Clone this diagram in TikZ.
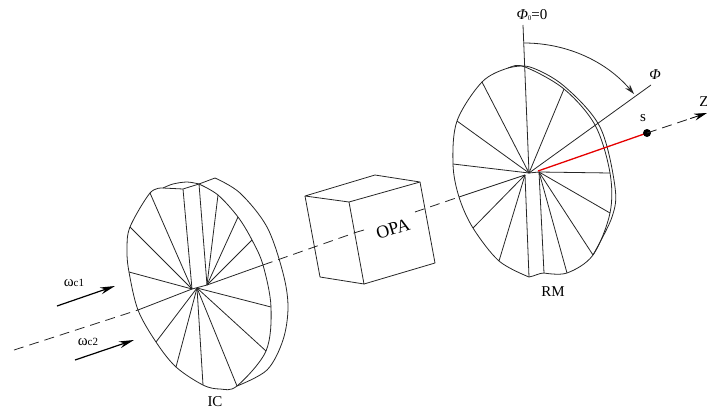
\documentclass[tikz,border=0pt]{standalone}
\usepackage{fontspec}
\setmainfont{Liberation Serif}
\usetikzlibrary{arrows.meta}
\tikzset{
  ln/.style={line width=0.8pt,black!85,line join=round},
  axisdash/.style={line width=0.8pt,black!85,dash pattern=on 10pt off 6pt},
  bigarrow/.style={line width=1.2pt,black,-{Stealth[length=15pt,width=7pt]}},
  lab/.style={font=\fontsize{15}{16}\selectfont,inner sep=0pt},
  rim/.style={ln,smooth,tension=0.55}
}
\begin{document}
\begin{tikzpicture}[x=1pt,y=-1pt]
\useasboundingbox (0,0) rectangle (707,412);
% ---- IC points
\foreach \n/\p in {a/{150,193},b/{163,188},c/{183,189},d/{199,184},e/{218,195},f/{238,217},g/{252,240},h/{263,265},i/{271,307},j/{266,351},k/{237,386},l/{220,389},m/{203,385},n/{176,367},o/{156,342},p/{138,310},q/{129,272},r/{130,227},s/{127,250},
 t/{173,184},u/{187,182},v/{215,178},w/{240,193},x/{267,227},y/{283,273},z/{288,307},A/{283,340},B/{267,370},
 H/{192,289},I/{207,285},J/{197,288}}
  {\coordinate (ic\n) at (\p);}
% IC outline
\draw[rim] plot coordinates {(icd)(ice)(icf)(icg)(ich)(ici)(icj)(ick)(icl)(icm)(icn)(ico)(icp)(icq)(ics)(icr)(ica)(icb)};
\draw[ln] (icb) -- (icc) -- (icd);
\draw[rim] plot coordinates {(icb)(ict)(icu)(icd)};
\draw[ln] (icd) -- (icv);
\draw[rim] plot coordinates {(icv)(icw)(icx)(icy)(icz)(icA)(icB)(ick)};
% IC spokes
\draw[ln] (icH) -- (icI);
\foreach \t in {a,r,q,c} \draw[ln] (icH) -- (ic\t);
\foreach \t in {o,n,m,k,j,i} \draw[ln] (icJ) -- (ic\t);
\foreach \t in {d,e,f,g} \draw[ln] (icI) -- (ic\t);
\draw[ln] (icH) -- (icp);
\draw[ln] (icI) -- (ich);
% ---- axis dashes
\coordinate (zstart) at (14,350);
\coordinate (zend) at (707,113);
\coordinate (cubeL) at (357,232);
\coordinate (cubeR) at (415,212);
\draw[axisdash] (zstart) -- (icp);
\draw[axisdash] (ich) -- (cubeL);
\coordinate (textL) at (364,230);
\draw[ln] (cubeL) -- (textL);
% ---- Cube
\foreach \n/\p in {a/{305,196},b/{375,175},c/{420,182},d/{349,202},e/{320,277},f/{364,284},g/{435,263}}
  {\coordinate (cu\n) at (\p);}
\draw[ln] (cua) -- (cub) -- (cuc) -- (cud) -- cycle;
\draw[ln] (cua) -- (cue) -- (cuf) -- (cud);
\draw[ln] (cuf) -- (cug) -- (cuc);
\node[lab,rotate=17,font=\fontsize{18}{18}\selectfont] (opa) at (393,229) {OPA};
% ---- RM points
\foreach \n/\p in {a/{525,67},b/{508,68},c/{482,82},d/{457,121},e/{453,164},f/{459,197},g/{473,228},h/{499,261},i/{529,277},j/{544,273},k/{567,273},l/{593,255},m/{610,213},n/{610,173},o/{595,125},p/{564,89},
 q/{530,67},r/{564,86},s/{600,127},t/{615,187},u/{612,217},
 H/{529,173},I/{539,172},K/{525,175},L/{523,25},M/{651,85},S/{647,133},N/{524,43},P/{634,94},Q/{578,51},R/{538,171}}
  {\coordinate (rm\n) at (\p);}
\draw[axisdash] (cubeR) -- (rmf);
\draw[rim] plot coordinates {(rmi)(rmh)(rmg)(rmf)(rme)(rmd)(rmc)(rmb)(rma)(rmp)(rmo)(rmn)(rmm)(rml)(rmk)(rmj)};
\draw[ln] (rmj) .. controls (539,273) and (535,276) .. (rmi);
\draw[rim] plot coordinates {(rmb)(rmq)(rmr)(rms)(rmt)(rmu)(rml)};
\draw[ln] (rmH) -- (rmI);
\foreach \t in {c,d,e,p} \draw[ln] (rmH) -- (rm\t);
\foreach \t in {f,g,h,i} \draw[ln] (rmK) -- (rm\t);
\foreach \t in {j,k,l,m,n} \draw[ln] (rmI) -- (rm\t);
\draw[ln] (rmH) -- (rmL);
\draw[ln] (rmH) -- (rmM);
\draw[ln,-{Stealth[length=10pt,width=6pt]}] (rmN) .. controls (565,43) and (605,60) .. (rmP);
\draw[line width=1.3pt,red!90!black] (rmR) -- (rmS);
\fill[black] (rmS) circle (4pt);
\path (rmS) -- (zend) coordinate[pos=0.72] (ztip);
\draw[axisdash] (rmS) -- (ztip);
\draw[line width=0.8pt,-{Stealth[length=13pt,width=7pt]}] (ztip) -- (zend);
% ---- labels
\node[lab] (zlab) at (704,102) {Z};
\node[lab] (slab) at (643,118) {s};
\node[lab] (philab) at (655,75) {\itshape Φ};
\node[lab] (phi0) at (532,15) {\textit{Φ}{\fontsize{7}{7}\selectfont\raisebox{-1pt}{0}}=0};
\node[lab] (rmlab) at (553,292) {RM};
\node[lab] (iclab) at (215,402) {IC};
\node[lab] (w1) at (74,283) {ω{\fontsize{11}{11}\selectfont c1}};
\node[lab] (w2) at (88,342) {ω{\fontsize{11}{11}\selectfont c2}};
\coordinate (a1s) at (57,306); \coordinate (a1e) at (115,286);
\coordinate (a2s) at (75,360); \coordinate (a2e) at (134,340);
\draw[bigarrow] (a1s) -- (a1e);
\draw[bigarrow] (a2s) -- (a2e);
\end{tikzpicture}
\end{document}
